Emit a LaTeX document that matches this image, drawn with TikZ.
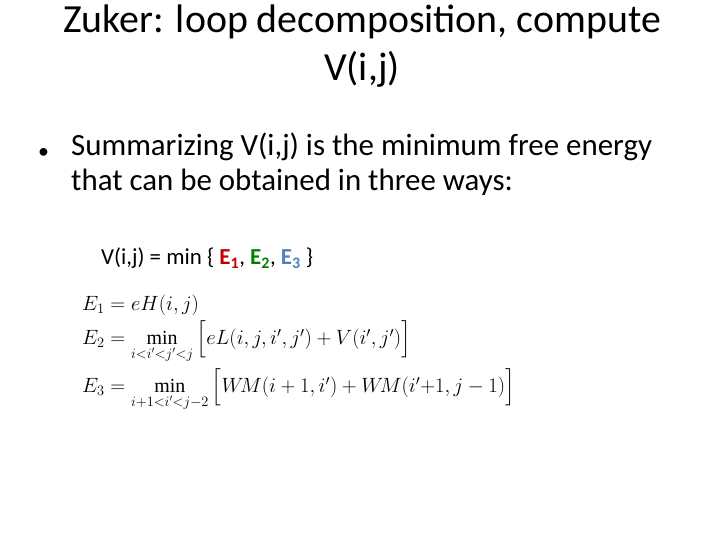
\documentclass[tikz,border=0pt]{standalone}
\usepackage{amsmath}
\usepackage{fontspec}
\setmainfont{Carlito}
\newfontfamily\eqfont{Liberation Serif}
\newcommand{\mmin}{\mathop{\text{\eqfont min}}\limits}
\definecolor{ered}{RGB}{192,0,0}
\definecolor{egreen}{RGB}{0,130,0}
\definecolor{eblue}{RGB}{79,129,189}
\begin{document}
\begin{tikzpicture}[x=1bp,y=-1bp,
  txt/.style={anchor=west,inner sep=0pt},
  eq/.style={txt,font=\fontsize{20}{20}\selectfont}]
\useasboundingbox[fill=white] (0,0) rectangle (720,540);
\node[inner sep=0pt,align=center,font=\fontsize{40}{48}\selectfont] (title) at (362,46) {Zuker: loop decomposition, compute\\V(i,j)};
\node[txt,font=\fontsize{22}{22}\selectfont] (bul) at (38,153) {•};
\node[txt,font=\fontsize{31}{35}\selectfont,align=left,anchor=north west] (b1) at (71,133) {Summarizing V(i,j) is the minimum free energy\\that can be obtained in three ways:};
\node[txt,font=\fontsize{23}{23}\selectfont] (v) at (101,258) {V(i,j) = min \{ \textbf{\textcolor{ered}{E\textsubscript{1}}}, \textbf{\textcolor{egreen}{E\textsubscript{2}}}, \textbf{\textcolor{eblue}{E\textsubscript{3}}} \}};
\node[eq] (e1) at (82,305) {$E_1 = eH(i,j)$};
\node[eq] (e2) at (82,342) {$E_2 = \mmin_{i<i'<j'<j}\Big[eL(i,j,i',j') + V(i',j')\Big]$};
\node[eq] (e3) at (82,390) {$E_3 = \mmin_{i+1<i'<j-2}\Big[W\!M(i+1,i') + W\!M(i'{+}1,j-1)\Big]$};
\end{tikzpicture}
\end{document}
